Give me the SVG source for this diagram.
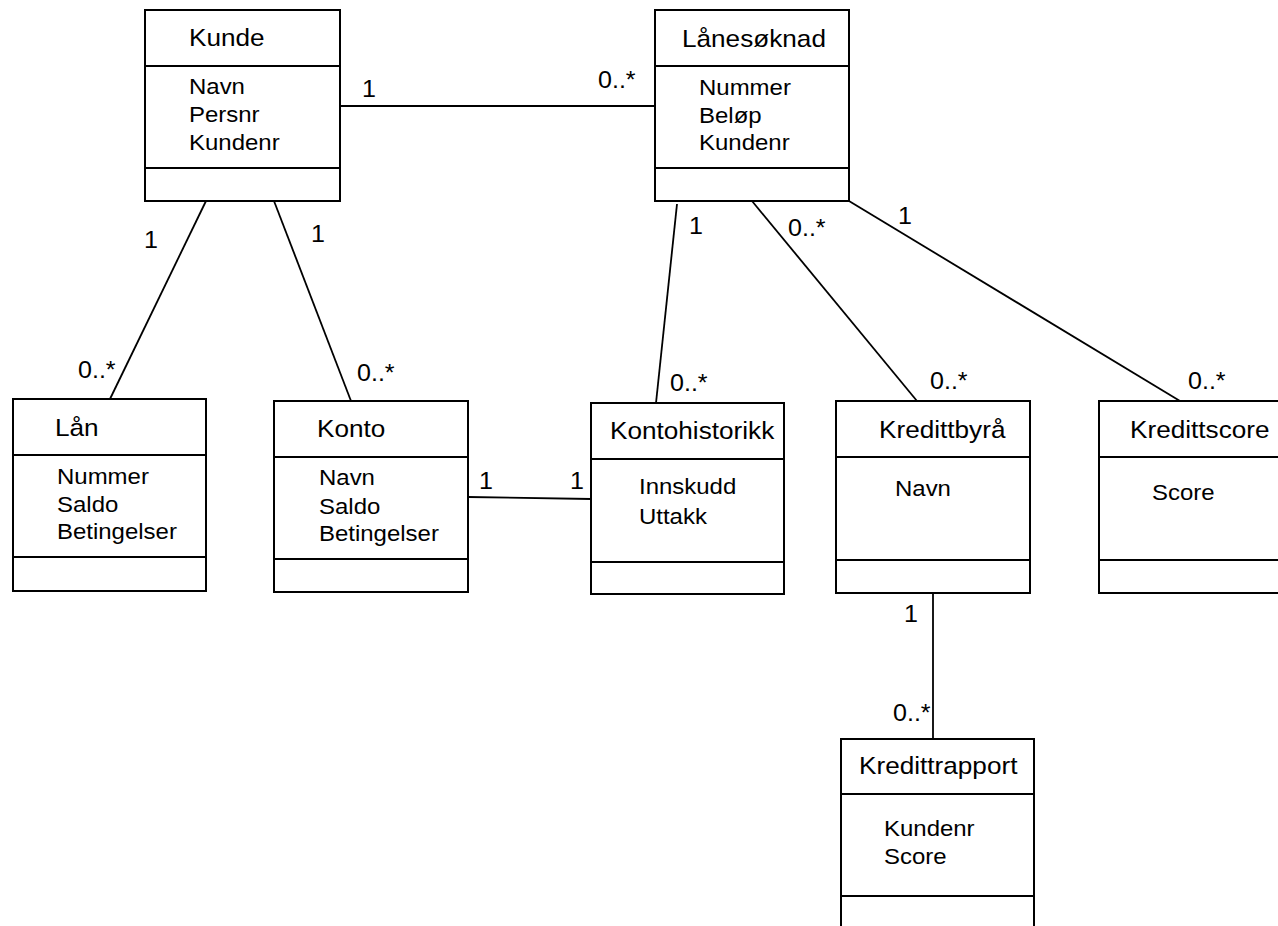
<svg xmlns="http://www.w3.org/2000/svg" width="1278" height="926" viewBox="0 0 1278 926">
  <style>
    .box { fill: #ffffff; stroke: #000000; stroke-width: 2; }
    .div { stroke: #000000; stroke-width: 2; }
    .edge { stroke: #000000; stroke-width: 1.8; fill: none; }
    text { font-family: "Liberation Sans", Arial, sans-serif; fill: #000000;
           transform-box: fill-box; transform-origin: 0 50%; transform: scaleX(1.09); }
    .title { font-size: 24px; }
    .attr { font-size: 22px; }
    .mult { font-size: 23px; }
  </style>

  <rect width="1278" height="926" fill="#ffffff"/>

  <!-- associations -->
  <g id="connectors">
    <line class="edge" x1="340" y1="106" x2="655" y2="106"/>
    <line class="edge" x1="206" y1="201" x2="110" y2="399"/>
    <line class="edge" x1="274" y1="201" x2="351" y2="401"/>
    <line class="edge" x1="468" y1="497" x2="591" y2="499"/>
    <line class="edge" x1="677" y1="204" x2="656" y2="403"/>
    <line class="edge" x1="752" y1="201" x2="917" y2="401"/>
    <line class="edge" x1="849" y1="201" x2="1180" y2="401"/>
    <line class="edge" x1="933" y1="593" x2="933" y2="739"/>

    <text class="mult" x="362" y="97">1</text>
    <text class="mult" x="598" y="88">0..*</text>
    <text class="mult" x="144" y="248">1</text>
    <text class="mult" x="78" y="378">0..*</text>
    <text class="mult" x="311" y="242">1</text>
    <text class="mult" x="357" y="381">0..*</text>
    <text class="mult" x="479" y="489">1</text>
    <text class="mult" x="570" y="489">1</text>
    <text class="mult" x="689" y="234">1</text>
    <text class="mult" x="670" y="391">0..*</text>
    <text class="mult" x="788" y="236">0..*</text>
    <text class="mult" x="930" y="389">0..*</text>
    <text class="mult" x="898" y="224">1</text>
    <text class="mult" x="1188" y="389">0..*</text>
    <text class="mult" x="904" y="622">1</text>
    <text class="mult" x="893" y="721">0..*</text>
  </g>

  <g id="kunde">
    <rect class="box" x="145" y="10" width="195" height="191"/>
    <line class="div" x1="145" y1="66" x2="340" y2="66"/>
    <line class="div" x1="145" y1="168" x2="340" y2="168"/>
    <text class="title" x="189" y="46">Kunde</text>
    <text class="attr" x="189" y="94">Navn</text>
    <text class="attr" x="189" y="122">Persnr</text>
    <text class="attr" x="189" y="150">Kundenr</text>
  </g>

  <g id="lanesoknad">
    <rect class="box" x="655" y="10" width="194" height="191"/>
    <line class="div" x1="655" y1="66" x2="849" y2="66"/>
    <line class="div" x1="655" y1="168" x2="849" y2="168"/>
    <text class="title" x="682" y="47">Lånesøknad</text>
    <text class="attr" x="699" y="95">Nummer</text>
    <text class="attr" x="699" y="123">Beløp</text>
    <text class="attr" x="699" y="150">Kundenr</text>
  </g>

  <g id="lan">
    <rect class="box" x="13" y="399" width="193" height="192"/>
    <line class="div" x1="13" y1="455" x2="206" y2="455"/>
    <line class="div" x1="13" y1="557" x2="206" y2="557"/>
    <text class="title" x="55" y="436">Lån</text>
    <text class="attr" x="57" y="484">Nummer</text>
    <text class="attr" x="57" y="512">Saldo</text>
    <text class="attr" x="57" y="539">Betingelser</text>
  </g>

  <g id="konto">
    <rect class="box" x="274" y="401" width="194" height="191"/>
    <line class="div" x1="274" y1="457" x2="468" y2="457"/>
    <line class="div" x1="274" y1="559" x2="468" y2="559"/>
    <text class="title" x="317" y="437">Konto</text>
    <text class="attr" x="319" y="485">Navn</text>
    <text class="attr" x="319" y="514">Saldo</text>
    <text class="attr" x="319" y="541">Betingelser</text>
  </g>

  <g id="kontohistorikk">
    <rect class="box" x="591" y="403" width="193" height="191"/>
    <line class="div" x1="591" y1="459" x2="784" y2="459"/>
    <line class="div" x1="591" y1="562" x2="784" y2="562"/>
    <text class="title" x="610" y="439">Kontohistorikk</text>
    <text class="attr" x="639" y="494">Innskudd</text>
    <text class="attr" x="639" y="524">Uttakk</text>
  </g>

  <g id="kredittbyra">
    <rect class="box" x="836" y="401" width="194" height="192"/>
    <line class="div" x1="836" y1="457" x2="1030" y2="457"/>
    <line class="div" x1="836" y1="560" x2="1030" y2="560"/>
    <text class="title" x="879" y="438">Kredittbyrå</text>
    <text class="attr" x="895" y="496">Navn</text>
  </g>

  <g id="kredittscore">
    <rect class="box" x="1099" y="401" width="200" height="192"/>
    <line class="div" x1="1099" y1="457" x2="1299" y2="457"/>
    <line class="div" x1="1099" y1="560" x2="1299" y2="560"/>
    <text class="title" x="1130" y="438">Kredittscore</text>
    <text class="attr" x="1152" y="500">Score</text>
  </g>

  <g id="kredittrapport">
    <rect class="box" x="841" y="739" width="193" height="200"/>
    <line class="div" x1="841" y1="794" x2="1034" y2="794"/>
    <line class="div" x1="841" y1="896" x2="1034" y2="896"/>
    <text class="title" x="859" y="774">Kredittrapport</text>
    <text class="attr" x="884" y="836">Kundenr</text>
    <text class="attr" x="884" y="864">Score</text>
  </g>
</svg>
